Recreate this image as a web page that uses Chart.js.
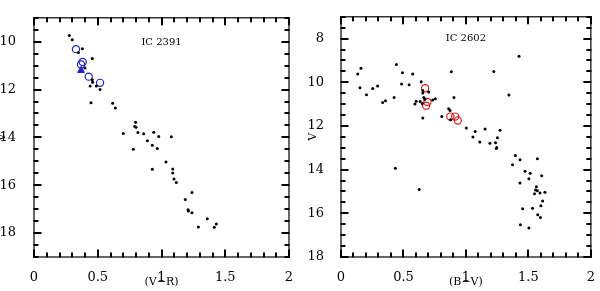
<!DOCTYPE html>
<html><head><meta charset="utf-8">
<script src="https://cdn.jsdelivr.net/npm/chart.js@4/dist/chart.umd.min.js"></script>
<style>
html,body{margin:0;padding:0;background:#fff;}
#wrap{position:relative;width:600px;height:291px;}
.c{position:absolute;top:0;width:300px;height:291px;}
</style></head><body>
<div id="wrap">
<div class="c" style="left:0"><canvas id="c1" width="300" height="291"></canvas></div>
<div class="c" style="left:300px"><canvas id="c2" width="300" height="291"></canvas></div>
</div>
<script>
// ---- IC 2391 (V-R, V) ----
const ic2391_vr = [0.277,0.30,0.379,0.348,0.457,0.40,0.457,0.46,0.44,0.489,0.518,0.447,0.617,0.638,0.797,0.79,0.80,0.70,0.815,0.86,0.939,0.978,1.077,0.889,0.928,0.967,0.779,1.035,0.928,1.088,1.088,1.098,1.116,1.239,1.187,1.208,1.211,1.239,1.359,1.430,1.289,1.414];
const ic2391_v  = [9.74,9.92,10.29,10.45,10.70,11.10,11.59,11.69,11.85,11.85,12.00,12.55,12.57,12.77,13.37,13.54,13.58,13.84,13.79,13.85,13.78,13.96,13.97,14.14,14.33,14.46,14.50,15.03,15.33,15.32,15.49,15.74,15.89,16.30,16.60,17.02,17.08,17.15,17.40,17.62,17.75,17.76];
const ic2391_circ_vr = [0.329,0.382,0.369,0.429,0.518];
const ic2391_circ_v  = [10.31,10.85,10.95,11.46,11.72];
const ic2391_tri_vr = [0.369];
const ic2391_tri_v  = [11.2];

// ---- IC 2602 (B-V, V) ----
const ic2602_bv = [0.134,0.16,0.152,0.204,0.254,0.293,0.333,0.356,0.425,0.443,0.492,0.485,0.545,0.574,0.642,0.655,0.655,0.663,0.702,0.602,0.634,0.592,0.65,0.671,0.734,0.755,0.655,0.807,0.862,0.873,0.877,0.883,0.904,1.003,1.074,1.056,1.111,1.153,1.192,1.237,1.247,1.242,1.252,1.273,1.223,1.344,1.425,0.435,0.626,1.396,1.373,1.433,1.572,1.473,1.514,1.504,1.606,1.433,1.564,1.557,1.572,1.549,1.593,1.632,1.614,1.600,1.454,1.533,1.575,1.596,1.436,1.504];
const ic2602_v  = [9.62,9.36,10.25,10.57,10.28,10.17,10.92,10.85,10.70,9.19,9.56,10.08,10.11,9.62,9.97,10.38,10.49,10.70,10.44,10.87,10.88,10.99,10.97,10.78,10.81,10.75,11.63,11.57,11.21,11.29,11.72,9.52,10.70,12.09,12.25,12.50,12.73,12.14,12.79,12.77,12.98,13.03,12.54,12.19,9.50,10.58,8.81,13.93,14.91,13.35,13.77,13.55,13.50,14.07,14.16,14.42,14.28,14.61,14.78,14.93,14.97,15.10,15.07,15.03,15.43,15.65,15.79,15.77,16.06,16.19,16.52,16.67];
const ic2602_circ_bv = [0.673,0.692,0.681,0.875,0.914,0.935];
const ic2602_circ_v  = [10.27,10.90,11.07,11.57,11.57,11.75];

// ---- tick labels ----
const xTickLabels = ['0','0.5','1','1.5','2'];
const yTickLabels1 = ['10','12','14','16','18'];
const yTickLabels2 = ['8','10','12','14','16','18'];

const SERIF = "'DejaVu Serif', 'Liberation Serif', serif";

function pts(xs, ys){ return xs.map((x,i)=>({x:x, y:ys[i]})); }
function fmt(v){ return String(Math.round(v*1000)/1000); }

// inward tick marks on all four sides, placed through the chart's own scales
const insideTicks = {
  id:'insideTicks',
  afterDraw(chart, args, opts){
    const ctx = chart.ctx, a = chart.chartArea;
    ctx.save();
    ctx.strokeStyle = '#000';
    ctx.lineWidth = 1;
    const xs = chart.scales.x, ys = chart.scales.y;
    for (let i = 0; i < xs.ticks.length; i++) {
      const t = xs.ticks[i];
      const p = Math.round(xs.getPixelForValue(t.value)) - 0.5;
      const L = opts.xLabels.indexOf(fmt(t.value)) >= 0 ? 7 : 4;
      ctx.strokeRect(p, a.bottom - L, 1, L);
      ctx.strokeRect(p, a.top, 1, L);
    }
    for (let i = 0; i < ys.ticks.length; i++) {
      const t = ys.ticks[i];
      const p = Math.round(ys.getPixelForValue(t.value)) - 0.5;
      const L = opts.yLabels.indexOf(fmt(t.value)) >= 0 ? 7 : 4;
      ctx.strokeRect(a.left, p, L, 1);
      ctx.strokeRect(a.right - L, p, L, 1);
    }
    ctx.lineWidth = 1.2;
    ctx.strokeRect(a.left, a.top, a.right - a.left, a.bottom - a.top);
    ctx.fillStyle = '#000';
    ctx.font = "10px " + SERIF;
    ctx.textAlign = 'center';
    ctx.textBaseline = 'middle';
    ctx.fillText(opts.name, (a.left + a.right)/2, a.top + opts.nameDy);
    ctx.restore();
  }
};

function makeChart(id, o){
  return new Chart(document.getElementById(id), {
    type:'scatter',
    data:{ datasets:o.datasets },
    options:{
      responsive:false, animation:false, events:[],
      layout:{ padding:{ left:0, right:o.padRight, top:3, bottom:0 } },
      plugins:{ legend:{display:false}, tooltip:{enabled:false},
        insideTicks:{ xLabels:xTickLabels, yLabels:o.yLabels, name:o.name, nameDy:o.nameDy } },
      scales:{
        x:{ type:'linear', min:0, max:2,
          afterFit:s=>{ s.height = 34; },
          ticks:{ stepSize:0.1, autoSkip:false, maxRotation:0, padding:5, color:'#000',
            font:{ family:SERIF, size:13 },
            callback:v=> xTickLabels.includes(fmt(v)) ? fmt(v) : '' },
          grid:{ display:false },
          border:{ display:false },
          title:{ display:true, text:o.xTitle, color:'#000', font:{ family:SERIF, size:11 }, padding:{top:0,bottom:2} }
        },
        y:{ type:'linear', reverse:true, min:o.ymin, max:o.ymax,
          afterFit:s=>{ s.width = o.yWidth; },
          ticks:{ stepSize:0.5, autoSkip:false, padding:o.yPad, color:'#000',
            font:{ family:SERIF, size:13 },
            callback:v=> o.yLabels.includes(fmt(v)) ? fmt(v) : '' },
          grid:{ display:false },
          border:{ display:false },
          title:{ display:true, text:'V', color:'#000', font:{ family:SERIF, size:11, lineHeight:1 }, padding:{top:o.yTitlePad,bottom:0} }
        }
      }
    },
    plugins:[insideTicks]
  });
}

makeChart('c1', {
  padRight:11, yWidth:34, yPad:10, yTitlePad:-3, ymin:9, ymax:19,
  yLabels:yTickLabels1, name:'IC 2391', nameDy:25, xTitle:'(V\u2212R)',
  datasets:[
    { data:pts(ic2391_vr, ic2391_v), pointRadius:1.5, pointBackgroundColor:'#000', pointBorderWidth:0, showLine:false },
    { data:pts(ic2391_circ_vr, ic2391_circ_v), pointRadius:3.6, pointBackgroundColor:'rgba(0,0,0,0)', pointBorderColor:'#2020d0', pointBorderWidth:1.2, showLine:false },
    { data:pts(ic2391_tri_vr, ic2391_tri_v), pointStyle:'triangle', pointRadius:4, pointBackgroundColor:'#2020d0', pointBorderColor:'#2020d0', pointBorderWidth:1, showLine:false }
  ]
});

makeChart('c2', {
  padRight:5, yWidth:41, yPad:9, yTitlePad:8, ymin:7, ymax:18,
  yLabels:yTickLabels2, name:'IC 2602', nameDy:22, xTitle:'(B\u2212V)',
  datasets:[
    { data:pts(ic2602_bv, ic2602_v), pointRadius:1.5, pointBackgroundColor:'#000', pointBorderWidth:0, showLine:false },
    { data:pts(ic2602_circ_bv, ic2602_circ_v), pointRadius:3.6, pointBackgroundColor:'rgba(0,0,0,0)', pointBorderColor:'#e02020', pointBorderWidth:1.2, showLine:false }
  ]
});
</script>
</body></html>
